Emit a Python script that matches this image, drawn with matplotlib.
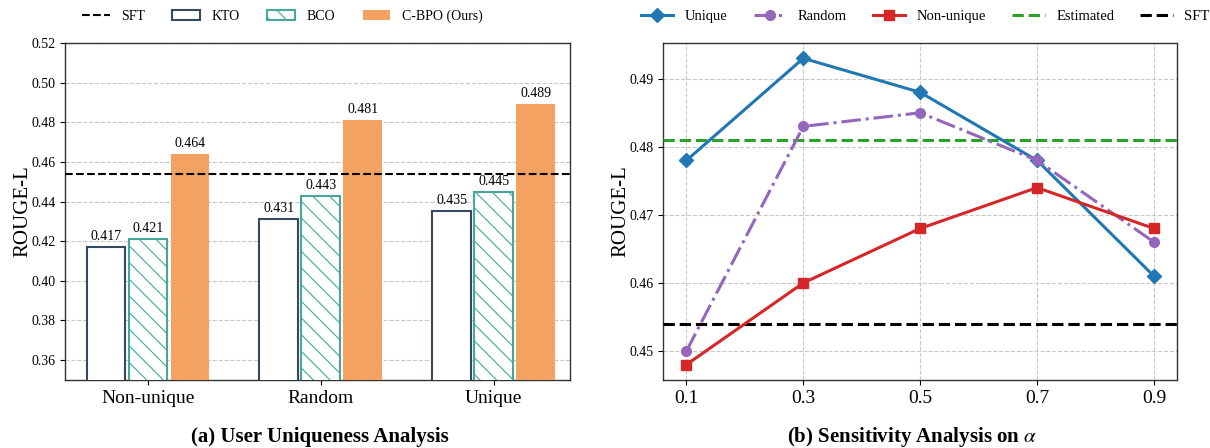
import matplotlib
matplotlib.use("Agg")
import matplotlib.pyplot as plt
import numpy as np

plt.rcParams['font.family'] = ['Liberation Serif', 'DejaVu Serif']
plt.rcParams['mathtext.fontset'] = 'stix'
plt.rcParams['hatch.linewidth'] = 0.8

# ---- data (a) ----
groups = ["Non-unique", "Random", "Unique"]
kto = [0.417, 0.431, 0.435]
bco = [0.421, 0.443, 0.445]
cbpo = [0.464, 0.481, 0.489]
sft_a = 0.454

# ---- data (b) ----
alphas = [0.1, 0.3, 0.5, 0.7, 0.9]
unique = [0.478, 0.493, 0.488, 0.478, 0.461]
random_ = [0.450, 0.483, 0.485, 0.478, 0.466]
nonunique = [0.448, 0.460, 0.468, 0.474, 0.468]
estimated = 0.481
sft_b = 0.454

fig = plt.figure(figsize=(12.1, 4.48), dpi=100)
ax1 = fig.add_axes([0.0537, 0.152, 0.4173, 0.752])
ax2 = fig.add_axes([0.548, 0.152, 0.425, 0.752])

# ---- (a) bars ----
x = np.arange(len(groups))
w = 0.225
off = 0.243
b1 = ax1.bar(x - off, kto, w, facecolor='white', edgecolor='#34495e', linewidth=1.5, label='KTO', zorder=3)
b2 = ax1.bar(x, bco, w, facecolor='white', edgecolor='#45a89a', linewidth=1.5, hatch='\\\\', label='BCO', zorder=3)
b3 = ax1.bar(x + off, cbpo, w, facecolor='#f4a261', edgecolor='#f4a261', linewidth=0, label='C-BPO (Ours)', zorder=3)
sl = ax1.axhline(sft_a, color='black', linestyle='--', linewidth=1.5, label='SFT', zorder=4)
for bars, vals in [(b1, kto), (b2, bco), (b3, cbpo)]:
    for r, v in zip(bars, vals):
        ax1.text(r.get_x() + r.get_width() / 2, v + 0.002, f"{v:.3f}", ha='center', va='bottom', fontsize=10)
ax1.set_ylim(0.35, 0.52)
ax1.set_xlim(-0.48, 2.44)
ax1.set_yticks(np.arange(0.36, 0.521, 0.02))
ax1.set_yticklabels([f"{v:.2f}" for v in np.arange(0.36, 0.521, 0.02)], fontsize=10)
ax1.set_xticks(x)
ax1.set_xticklabels(groups, fontsize=14)
ax1.set_ylabel("ROUGE-L", fontsize=15, labelpad=-1)
ax1.yaxis.grid(True, linestyle='--', color='#c8c8c8', linewidth=0.8, zorder=0)
ax1.set_axisbelow(True)
for s in ax1.spines.values():
    s.set_color('#333333')
    s.set_linewidth(1.0)
ax1.legend(handles=[sl, b1, b2, b3], loc='lower center', bbox_to_anchor=(0.43, 1.03), ncol=4,
           frameon=False, fontsize=10, handlelength=2.0, columnspacing=2.0, borderaxespad=0.3)

# ---- (b) lines ----
ax2.plot(alphas, unique, color='#1f77b4', marker='D', markersize=7, linewidth=2.2, label='Unique', zorder=4)
ax2.plot(alphas, random_, color='#9467bd', marker='o', markersize=7, linewidth=2.2, linestyle='-.', label='Random', zorder=4)
ax2.plot(alphas, nonunique, color='#d62728', marker='s', markersize=7, linewidth=2.2, label='Non-unique', zorder=4)
ax2.axhline(estimated, color='#2ca02c', linestyle='--', linewidth=2.2, label='Estimated', zorder=3)
ax2.axhline(sft_b, color='black', linestyle='--', linewidth=2.2, label='SFT', zorder=3)
ax2.set_xticks(alphas)
ax2.set_xticklabels([str(a) for a in alphas], fontsize=14)
ax2.set_yticks([0.45, 0.46, 0.47, 0.48, 0.49])
ax2.set_yticklabels(["0.45", "0.46", "0.47", "0.48", "0.49"], fontsize=10)
ax2.set_ylabel("ROUGE-L", fontsize=15, labelpad=-1)
ax2.grid(True, linestyle='--', color='#c8c8c8', linewidth=0.8)
ax2.set_axisbelow(True)
for s in ax2.spines.values():
    s.set_color('#333333')
    s.set_linewidth(1.0)
ax2.legend(loc='lower center', bbox_to_anchor=(0.51, 1.03), ncol=5, frameon=False,
           fontsize=10.5, handlelength=2.2, columnspacing=1.8, borderaxespad=0.3)

fig.text(0.264, 0.0246, "(a) User Uniqueness Analysis", ha='center', va='center', fontsize=15, fontweight='bold')
fig.text(0.754, 0.0246, r"(b) Sensitivity Analysis on $\alpha$", ha='center', va='center', fontsize=15, fontweight='bold')

fig.savefig("out.png", dpi=100)
